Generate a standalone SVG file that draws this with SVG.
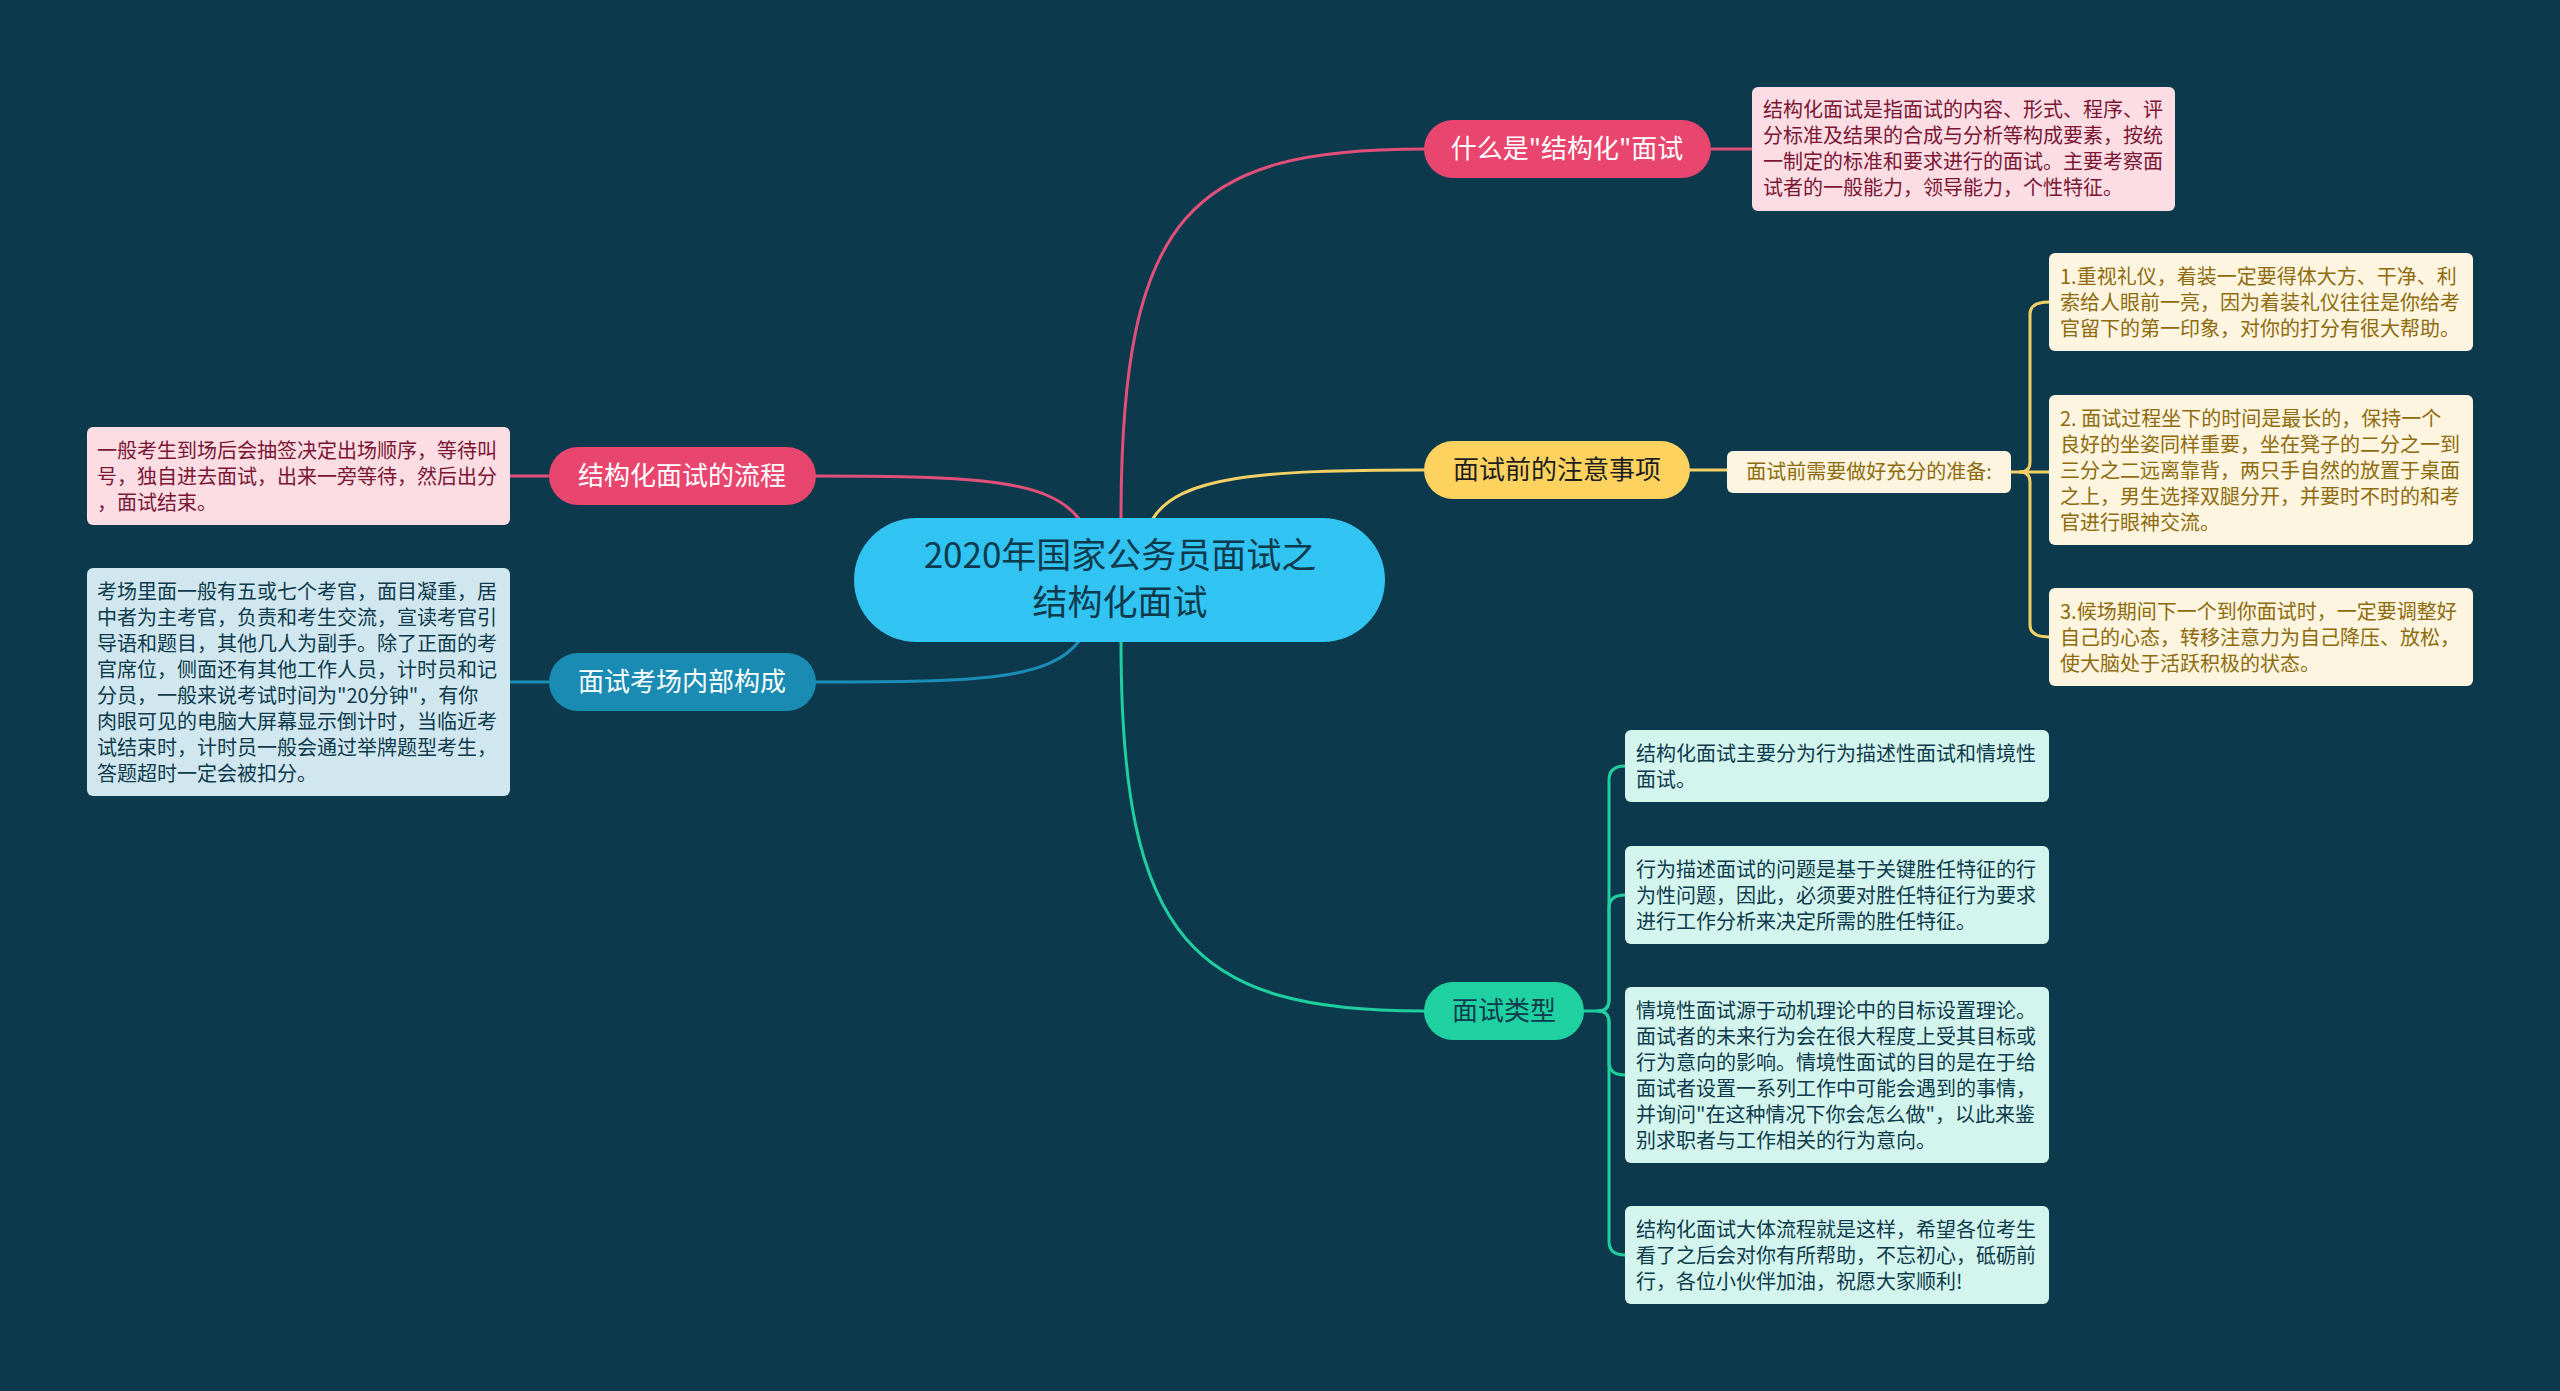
<svg xmlns="http://www.w3.org/2000/svg" width="2560" height="1391" viewBox="0 0 2560 1391">
<style>
.cjk{font-family:"Noto Sans CJK SC","Noto Sans",sans-serif}
.box{font-size:20px}
.br{font-size:26px;text-anchor:middle}
.ln{fill:none;stroke-width:3;stroke-linecap:round}
.pink{stroke:#e2507a}.yel{stroke:#f3d165}.blue{stroke:#1b8db6}.green{stroke:#1fcf9e}
.tp{fill:#7a1533}.ty{fill:#8e6b0c}.td{fill:#0d3a4c}
</style>
<rect width="2560" height="1391" fill="#0c394c"/>
<g id="connectors">
<path class="ln pink" d="M1121,518 C1121,212 1192,149 1424,149"/>
<path class="ln pink" d="M1711,149 H1752"/>
<path class="ln yel" d="M1152,520 C1178,476 1260,470 1424,470"/>
<path class="ln yel" d="M1690,470 H1727"/>
<path class="ln yel" d="M2011,472 H2049"/>
<path class="ln yel" d="M2020,472 Q2030,472 2030,462 V314 Q2030,302 2049,302"/>
<path class="ln yel" d="M2020,472 Q2030,472 2030,482 V625 Q2030,637 2049,637"/>
<path class="ln pink" d="M1080,520 C1050,480 980,476 816,476"/>
<path class="ln pink" d="M549,476 H510"/>
<path class="ln blue" d="M1080,640 C1050,680 980,682 816,682"/>
<path class="ln blue" d="M549,682 H510"/>
<path class="ln green" d="M1121,642 C1121,940 1192,1011 1424,1011"/>
<path class="ln green" d="M1584,1011 H1598 Q1609,1011 1609,1000 V780 Q1609,766 1625,766"/>
<path class="ln green" d="M1598,1011 Q1609,1011 1609,1000 V908 Q1609,895 1625,895"/>
<path class="ln green" d="M1598,1011 Q1609,1011 1609,1022 V1062 Q1609,1075 1625,1075"/>
<path class="ln green" d="M1598,1011 Q1609,1011 1609,1022 V1241 Q1609,1255 1625,1255"/>
</g>
<g id="center">
<rect x="854" y="518" width="531" height="124" rx="62" fill="#31c3f1"/>
<text class="cjk td" x="1120" y="568" font-size="35" text-anchor="middle">2020年国家公务员面试之</text>
<text class="cjk td" x="1120" y="615" font-size="35" text-anchor="middle">结构化面试</text>
</g>
<g id="n-what">
<rect x="1424" y="120" width="287" height="58" rx="29" fill="#e9466f"/>
<text class="cjk br" x="1567" y="158" fill="#ffffff">什么是"结构化"面试</text>
</g>
<g id="n-what-desc">
<rect x="1752" y="87" width="423" height="124" rx="6" fill="#fcdde4"/>
<text class="cjk box tp" x="1763" y="117">结构化面试是指面试的内容、形式、程序、评</text>
<text class="cjk box tp" x="1763" y="143">分标准及结果的合成与分析等构成要素，按统</text>
<text class="cjk box tp" x="1763" y="169">一制定的标准和要求进行的面试。主要考察面</text>
<text class="cjk box tp" x="1763" y="195">试者的一般能力，领导能力，个性特征。</text>
</g>
<g id="n-before">
<rect x="1424" y="441" width="266" height="58" rx="29" fill="#fdd25f"/>
<text class="cjk br" x="1557" y="479" fill="#1e1e1e">面试前的注意事项</text>
</g>
<g id="n-prep">
<rect x="1727" y="451" width="284" height="42" rx="6" fill="#fdf5e0"/>
<text class="cjk ty" x="1869" y="479" font-size="20" text-anchor="middle">面试前需要做好充分的准备:</text>
</g>
<g id="n-tip1">
<rect x="2049" y="253" width="424" height="98" rx="6" fill="#fdf5e0"/>
<text class="cjk box ty" x="2060" y="284">1.重视礼仪，着装一定要得体大方、干净、利</text>
<text class="cjk box ty" x="2060" y="310">索给人眼前一亮，因为着装礼仪往往是你给考</text>
<text class="cjk box ty" x="2060" y="336">官留下的第一印象，对你的打分有很大帮助。</text>
</g>
<g id="n-tip2">
<rect x="2049" y="395" width="424" height="150" rx="6" fill="#fdf5e0"/>
<text class="cjk box ty" x="2060" y="426">2. 面试过程坐下的时间是最长的，保持一个</text>
<text class="cjk box ty" x="2060" y="452">良好的坐姿同样重要，坐在凳子的二分之一到</text>
<text class="cjk box ty" x="2060" y="478">三分之二远离靠背，两只手自然的放置于桌面</text>
<text class="cjk box ty" x="2060" y="504">之上，男生选择双腿分开，并要时不时的和考</text>
<text class="cjk box ty" x="2060" y="530">官进行眼神交流。</text>
</g>
<g id="n-tip3">
<rect x="2049" y="588" width="424" height="98" rx="6" fill="#fdf5e0"/>
<text class="cjk box ty" x="2060" y="619">3.候场期间下一个到你面试时，一定要调整好</text>
<text class="cjk box ty" x="2060" y="645">自己的心态，转移注意力为自己降压、放松，</text>
<text class="cjk box ty" x="2060" y="671">使大脑处于活跃积极的状态。</text>
</g>
<g id="n-flow">
<rect x="549" y="447" width="267" height="58" rx="29" fill="#e9466f"/>
<text class="cjk br" x="682" y="485" fill="#ffffff">结构化面试的流程</text>
</g>
<g id="n-flow-desc">
<rect x="87" y="427" width="423" height="98" rx="6" fill="#fcdde4"/>
<text class="cjk box tp" x="97" y="458">一般考生到场后会抽签决定出场顺序，等待叫</text>
<text class="cjk box tp" x="97" y="484">号，独自进去面试，出来一旁等待，然后出分</text>
<text class="cjk box tp" x="97" y="510">，面试结束。</text>
</g>
<g id="n-room">
<rect x="549" y="653" width="267" height="58" rx="29" fill="#1a8cb3"/>
<text class="cjk br" x="682" y="691" fill="#ffffff">面试考场内部构成</text>
</g>
<g id="n-room-desc">
<rect x="87" y="568" width="423" height="228" rx="6" fill="#d1e7ef"/>
<text class="cjk box td" x="97" y="599">考场里面一般有五或七个考官，面目凝重，居</text>
<text class="cjk box td" x="97" y="625">中者为主考官，负责和考生交流，宣读考官引</text>
<text class="cjk box td" x="97" y="651">导语和题目，其他几人为副手。除了正面的考</text>
<text class="cjk box td" x="97" y="677">官席位，侧面还有其他工作人员，计时员和记</text>
<text class="cjk box td" x="97" y="703">分员，一般来说考试时间为"20分钟"，有你</text>
<text class="cjk box td" x="97" y="729">肉眼可见的电脑大屏幕显示倒计时，当临近考</text>
<text class="cjk box td" x="97" y="755">试结束时，计时员一般会通过举牌题型考生，</text>
<text class="cjk box td" x="97" y="781">答题超时一定会被扣分。</text>
</g>
<g id="n-type">
<rect x="1424" y="982" width="160" height="58" rx="29" fill="#1fd1a0"/>
<text class="cjk br" x="1504" y="1020" fill="#0d3a4c">面试类型</text>
</g>
<g id="n-type1">
<rect x="1625" y="730" width="424" height="72" rx="6" fill="#d3f5ed"/>
<text class="cjk box td" x="1636" y="761">结构化面试主要分为行为描述性面试和情境性</text>
<text class="cjk box td" x="1636" y="787">面试。</text>
</g>
<g id="n-type2">
<rect x="1625" y="846" width="424" height="98" rx="6" fill="#d3f5ed"/>
<text class="cjk box td" x="1636" y="877">行为描述面试的问题是基于关键胜任特征的行</text>
<text class="cjk box td" x="1636" y="903">为性问题，因此，必须要对胜任特征行为要求</text>
<text class="cjk box td" x="1636" y="929">进行工作分析来决定所需的胜任特征。</text>
</g>
<g id="n-type3">
<rect x="1625" y="987" width="424" height="176" rx="6" fill="#d3f5ed"/>
<text class="cjk box td" x="1636" y="1018">情境性面试源于动机理论中的目标设置理论。</text>
<text class="cjk box td" x="1636" y="1044">面试者的未来行为会在很大程度上受其目标或</text>
<text class="cjk box td" x="1636" y="1070">行为意向的影响。情境性面试的目的是在于给</text>
<text class="cjk box td" x="1636" y="1096">面试者设置一系列工作中可能会遇到的事情，</text>
<text class="cjk box td" x="1636" y="1122">并询问"在这种情况下你会怎么做"，以此来鉴</text>
<text class="cjk box td" x="1636" y="1148">别求职者与工作相关的行为意向。</text>
</g>
<g id="n-type4">
<rect x="1625" y="1206" width="424" height="98" rx="6" fill="#d3f5ed"/>
<text class="cjk box td" x="1636" y="1237">结构化面试大体流程就是这样，希望各位考生</text>
<text class="cjk box td" x="1636" y="1263">看了之后会对你有所帮助，不忘初心，砥砺前</text>
<text class="cjk box td" x="1636" y="1289">行，各位小伙伴加油，祝愿大家顺利!</text>
</g>
</svg>
